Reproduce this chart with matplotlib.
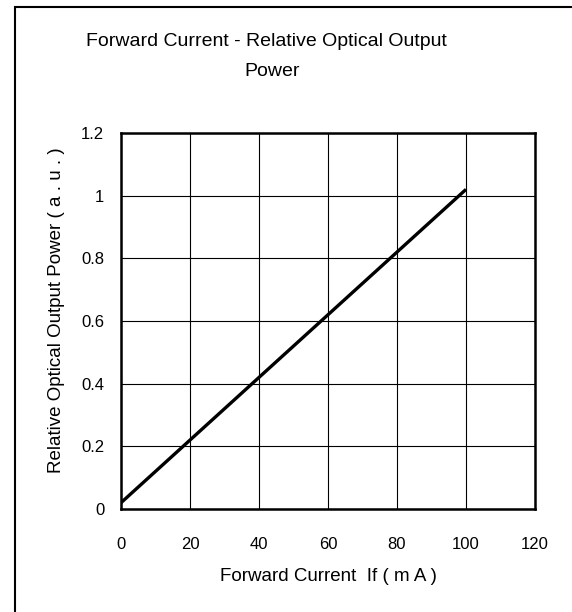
import matplotlib
matplotlib.use("Agg")
import matplotlib.pyplot as plt
from matplotlib.patches import Rectangle

# data
current = [0, 20, 40, 60, 80, 100]
power = [0.02, 0.22, 0.42, 0.62, 0.82, 1.02]
xticks = [0, 20, 40, 60, 80, 100, 120]
yticks = [0, 0.2, 0.4, 0.6, 0.8, 1, 1.2]
ytick_labels = ['0', '0.2', '0.4', '0.6', '0.8', '1', '1.2']

plt.rcParams['font.family'] = ['Liberation Sans', 'DejaVu Sans']

fig = plt.figure(figsize=(5.72, 6.12), dpi=100)

# outer frame (runs off the right and bottom edges)
fig.patches.append(Rectangle((15 / 572, -0.1), 1.2, 1 - 7 / 612 + 0.1,
                             transform=fig.transFigure, fill=False,
                             edgecolor='black', linewidth=1.5))

ax = fig.add_axes([121 / 572, 1 - 509 / 612, 414 / 572, 376 / 612])
ax.plot(current, power, color='black', linewidth=2.4, solid_capstyle='butt')

ax.set_xlim(0, 120)
ax.set_ylim(0, 1.2)
ax.set_xticks(xticks)
ax.set_yticks(yticks)
ax.set_yticklabels(ytick_labels)
ax.tick_params(length=0, labelsize=12)
ax.tick_params(axis='x', pad=20)
ax.tick_params(axis='y', pad=12)
ax.grid(True, color='black', linewidth=0.8)
for s in ax.spines.values():
    s.set_linewidth(1.8)

ax.set_xlabel('Forward Current  If ( m A )', fontsize=13.5, labelpad=12)
ax.set_ylabel('Relative Optical Output Power ( a . u . )', fontsize=13.5, labelpad=12)
ax.yaxis.label.set_y(0.53)

fig.text(266 / 572, 1 - 42 / 612, 'Forward Current - Relative Optical Output',
         ha='center', va='center', fontsize=14)
fig.text(272 / 572, 1 - 72 / 612, 'Power', ha='center', va='center', fontsize=14)

fig.savefig('out.png', dpi=100)
